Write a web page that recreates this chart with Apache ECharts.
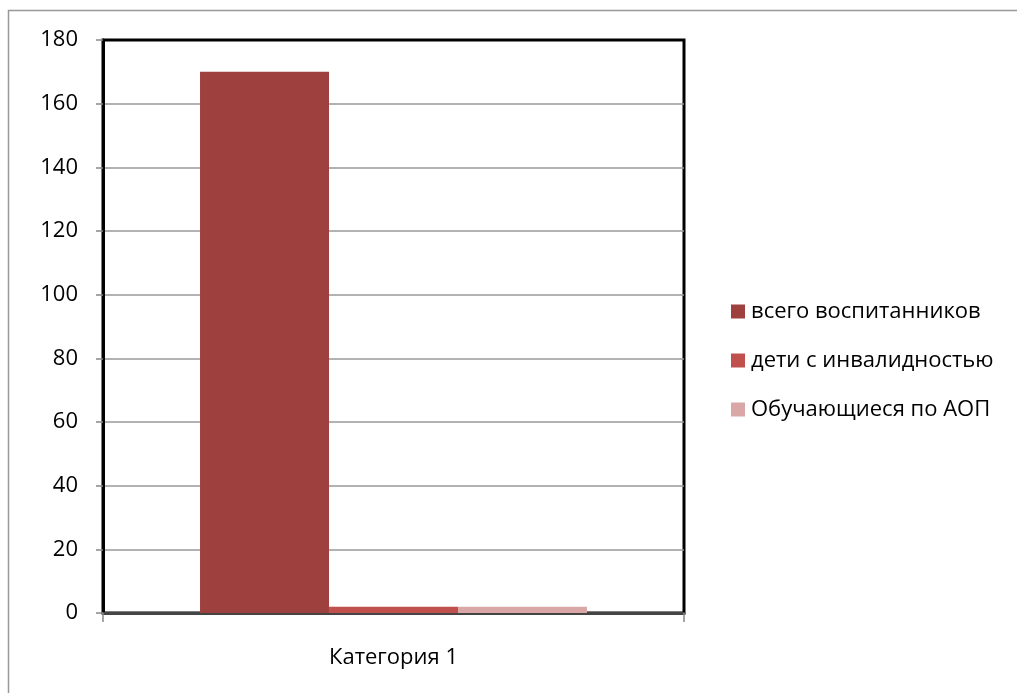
<!DOCTYPE html>
<html><head><meta charset="utf-8">
<script src="https://cdn.jsdelivr.net/npm/echarts@6/dist/echarts.min.js"></script>
<style>html,body{margin:0;padding:0;background:#fff}#c{width:1017px;height:693px}</style>
</head><body><div id="c"></div>
<script>
const categories = ['Категория 1'];
const seriesNames = ['всего воспитанников', 'дети с инвалидностью', 'Обучающиеся по АОП'];
const seriesValues = [[170], [2], [2]];
const colors = ['#9E413E', '#C0504D', '#D9A7A6'];
const yTicks = {min: 0, max: 180, interval: 20};

const chart = echarts.init(document.getElementById('c'));
const font = '"Open Sans", "DejaVu Sans", sans-serif';
chart.setOption({
  animation: false,
  graphic: [
    {type: 'line', shape: {x1: 8, y1: 10.5, x2: 1017, y2: 10.5}, style: {stroke: '#999', lineWidth: 1.5}, z: -1},
    {type: 'line', shape: {x1: 8.5, y1: 10, x2: 8.5, y2: 693}, style: {stroke: '#999', lineWidth: 1.5}, z: -1}
  ],
  grid: {left: 103, top: 40, width: 581, height: 573, show: true, borderColor: '#000', borderWidth: 3, backgroundColor: 'transparent'},
  legend: {
    orient: 'vertical', left: 726, top: 295, itemWidth: 14, itemHeight: 14, itemGap: 26,
    icon: 'rect',
    textStyle: {fontFamily: font, fontSize: 22, lineHeight: 23, color: '#000', padding: [0, 0, 0, 1]},
    data: seriesNames
  },
  xAxis: {
    type: 'category', data: categories,
    axisLine: {show: true, lineStyle: {color: '#444', width: 3}},
    axisTick: {show: true, alignWithLabel: false, length: 9, lineStyle: {color: '#888', width: 1.5}},
    axisLabel: {fontFamily: font, fontSize: 22, color: '#000', margin: 34}
  },
  yAxis: {
    type: 'value', min: yTicks.min, max: yTicks.max, interval: yTicks.interval,
    axisLine: {show: true, lineStyle: {color: '#000', width: 3}},
    axisTick: {show: true, length: 7, lineStyle: {color: '#888', width: 1.5}},
    splitLine: {show: true, showMaxLine: false, showMinLine: false, lineStyle: {color: '#999', width: 1.5}},
    axisLabel: {fontFamily: font, fontSize: 22, color: '#000', margin: 25}
  },
  series: seriesNames.map((n, i) => ({
    name: n, type: 'bar', data: seriesValues[i], barGap: '0%', barCategoryGap: '33.4%',
    itemStyle: {color: colors[i]}
  }))
});
</script></body></html>
